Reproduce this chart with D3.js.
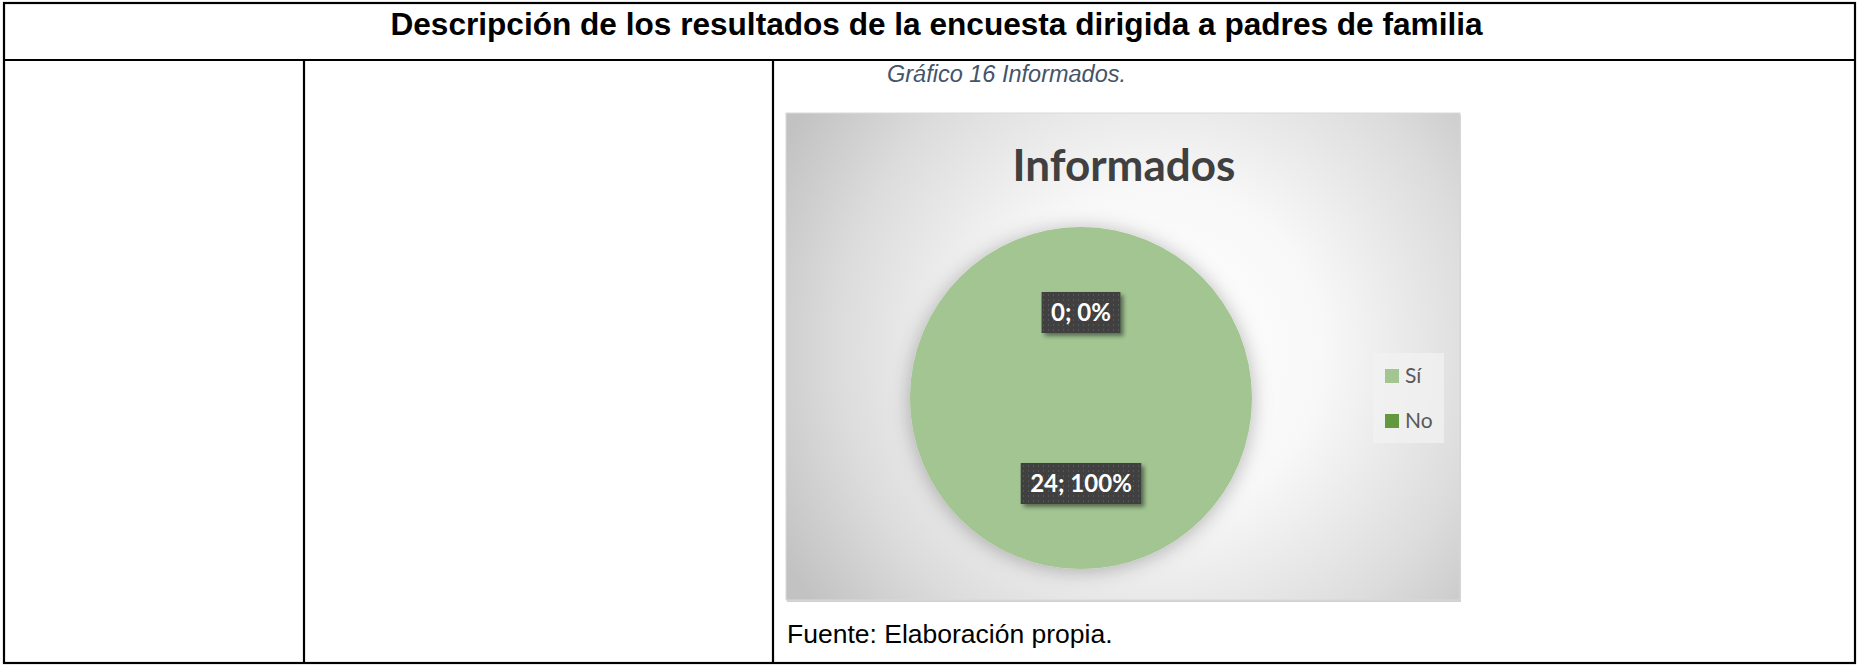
<!DOCTYPE html>
<html><head><meta charset="utf-8">
<script src="https://cdn.jsdelivr.net/npm/d3@7/dist/d3.min.js"></script>
<style>html,body{margin:0;padding:0;background:#fff;overflow:hidden}</style>
</head><body>
<svg id="c" width="1857" height="665"></svg>
<script>
// ---- data ----
const categories = ["Sí", "No"];
const values = [24, 0];
const chartTitle = "Informados";
const headerText = "Descripción de los resultados de la encuesta dirigida a padres de familia";
const captionText = "Gráfico 16 Informados.";
const sourceText = "Fuente: Elaboración propia.";
const colors = ["#a2c592", "#62993e"];

const svg = d3.select("#c");
const defs = svg.append("defs");

// background gradient
const rg = defs.append("radialGradient").attr("id","bg")
  .attr("gradientUnits","userSpaceOnUse").attr("cx",1160).attr("cy",350).attr("r",430);
rg.append("stop").attr("offset","0").attr("stop-color","#ffffff");
rg.append("stop").attr("offset","0.38").attr("stop-color","#f8f8f8");
rg.append("stop").attr("offset","0.75").attr("stop-color","#dcdcdc");
rg.append("stop").attr("offset","1").attr("stop-color","#c2c2c2");

// pie glow
const glow = defs.append("filter").attr("id","glow").attr("x","-30%").attr("y","-30%").attr("width","160%").attr("height","160%");
glow.append("feGaussianBlur").attr("in","SourceAlpha").attr("stdDeviation",10).attr("result","b");
glow.append("feOffset").attr("in","b").attr("dx",0).attr("dy",2).attr("result","o");
glow.append("feFlood").attr("flood-color","#000").attr("flood-opacity",0.28);
glow.append("feComposite").attr("in2","o").attr("operator","in").attr("result","s");
const gm = glow.append("feMerge");
gm.append("feMergeNode").attr("in","s");
gm.append("feMergeNode").attr("in","SourceGraphic");

// label shadow
const ls = defs.append("filter").attr("id","lshadow").attr("x","-20%").attr("y","-30%").attr("width","150%").attr("height","180%");
ls.append("feDropShadow").attr("dx",3).attr("dy",3).attr("stdDeviation",2).attr("flood-color","#000").attr("flood-opacity",0.45);

// dotted pattern
const pat = defs.append("pattern").attr("id","dots").attr("patternUnits","userSpaceOnUse").attr("width",5).attr("height",5);
pat.append("rect").attr("width",5).attr("height",5).attr("fill","#404040");
pat.append("rect").attr("x",2).attr("y",2).attr("width",1).attr("height",1).attr("fill","#6a6a6a");

// ---- table ----
const T = {l:4, t:3, r:1855, b:663, hb:60, c1:304, c2:773};
const tbl = svg.append("g").attr("stroke","#000").attr("stroke-width",2.2).attr("fill","none");
tbl.append("rect").attr("x",T.l).attr("y",T.t).attr("width",T.r-T.l).attr("height",T.b-T.t);
tbl.append("line").attr("x1",T.l).attr("x2",T.r).attr("y1",T.hb).attr("y2",T.hb);
tbl.append("line").attr("x1",T.c1).attr("x2",T.c1).attr("y1",T.hb).attr("y2",T.b);
tbl.append("line").attr("x1",T.c2).attr("x2",T.c2).attr("y1",T.hb).attr("y2",T.b);

svg.append("text").attr("x",(T.l+T.r)/2+7).attr("y",35).attr("text-anchor","middle")
  .attr("font-family","Liberation Sans, Arial, sans-serif").attr("font-weight","bold").attr("font-size",31.6)
  .attr("fill","#000").text(headerText);

svg.append("text").attr("x",887).attr("y",82)
  .attr("font-family","Liberation Sans, Arial, sans-serif").attr("font-style","italic").attr("font-size",23.5)
  .attr("fill","#44546a").text(captionText);

svg.append("text").attr("x",787).attr("y",643)
  .attr("font-family","Liberation Sans, Arial, sans-serif").attr("font-size",26.5)
  .attr("fill","#000").text(sourceText);

// ---- chart box ----
const B = {x:786, y:113, w:674, h:487};
svg.append("rect").attr("x",B.x+1).attr("y",B.y+2).attr("width",B.w).attr("height",B.h).attr("fill","#d0d0d0");
svg.append("rect").attr("x",B.x).attr("y",B.y).attr("width",B.w).attr("height",B.h)
  .attr("fill","url(#bg)").attr("stroke","#d9d9d9").attr("stroke-width",1);

svg.append("text").attr("x",1124).attr("y",181).attr("text-anchor","middle")
  .attr("font-family","Lato, 'Open Sans', sans-serif").attr("font-weight","bold").attr("font-size",44)
  .attr("fill","#404040").text(chartTitle);

// ---- pie ----
const cx = 1081, cy = 398, R = 171;
const pie = d3.pie().sort(null).value(d => d)(values);
const arc = d3.arc().innerRadius(0).outerRadius(R);
const total = d3.sum(values);
const color = d3.scaleOrdinal().domain(categories).range(colors);

const g = svg.append("g").attr("transform",`translate(${cx},${cy})`);
g.append("g").attr("filter","url(#glow)").selectAll("path").data(pie).join("path")
  .attr("d",arc).attr("fill",(d,i)=>color(categories[i]));

const lab = g.selectAll("g.lab").data(pie).join("g").attr("class","lab")
  .attr("transform",d=>{const c=arc.centroid(d);return `translate(${c[0]},${c[1]})`;});
lab.each(function(d,i){
  const s = d3.select(this);
  const txt = values[i] + "; " + Math.round(values[i]/total*100) + "%";
  const t = s.append("text").attr("text-anchor","middle").attr("y",8.5)
    .attr("font-family","Lato, 'Open Sans', sans-serif").attr("font-weight","bold").attr("font-size",24)
    .attr("fill","#fff").text(txt);
  const w = t.node().getComputedTextLength() + 19, h = 41;
  s.insert("rect","text").attr("x",-w/2).attr("y",-h/2).attr("width",w).attr("height",h)
    .attr("fill","url(#dots)").attr("filter","url(#lshadow)");
});

// ---- legend ----
const L = {x:1373, y:353, w:71, h:90};
svg.append("rect").attr("x",L.x).attr("y",L.y).attr("width",L.w).attr("height",L.h).attr("fill","#f2f2f2").attr("opacity",0.75);
const ly = d3.scalePoint().domain(categories).range([376, 421]);
const lg = svg.append("g").selectAll("g").data(categories).join("g")
  .attr("transform",d=>`translate(1385,${ly(d)})`);
lg.append("rect").attr("x",0).attr("y",-7).attr("width",14).attr("height",14).attr("fill",d=>color(d));
lg.append("text").attr("x",20).attr("y",7).attr("font-family","Lato, 'Open Sans', sans-serif").attr("font-size",21)
  .attr("fill","#595959").text(d=>d);
</script>
</body></html>
